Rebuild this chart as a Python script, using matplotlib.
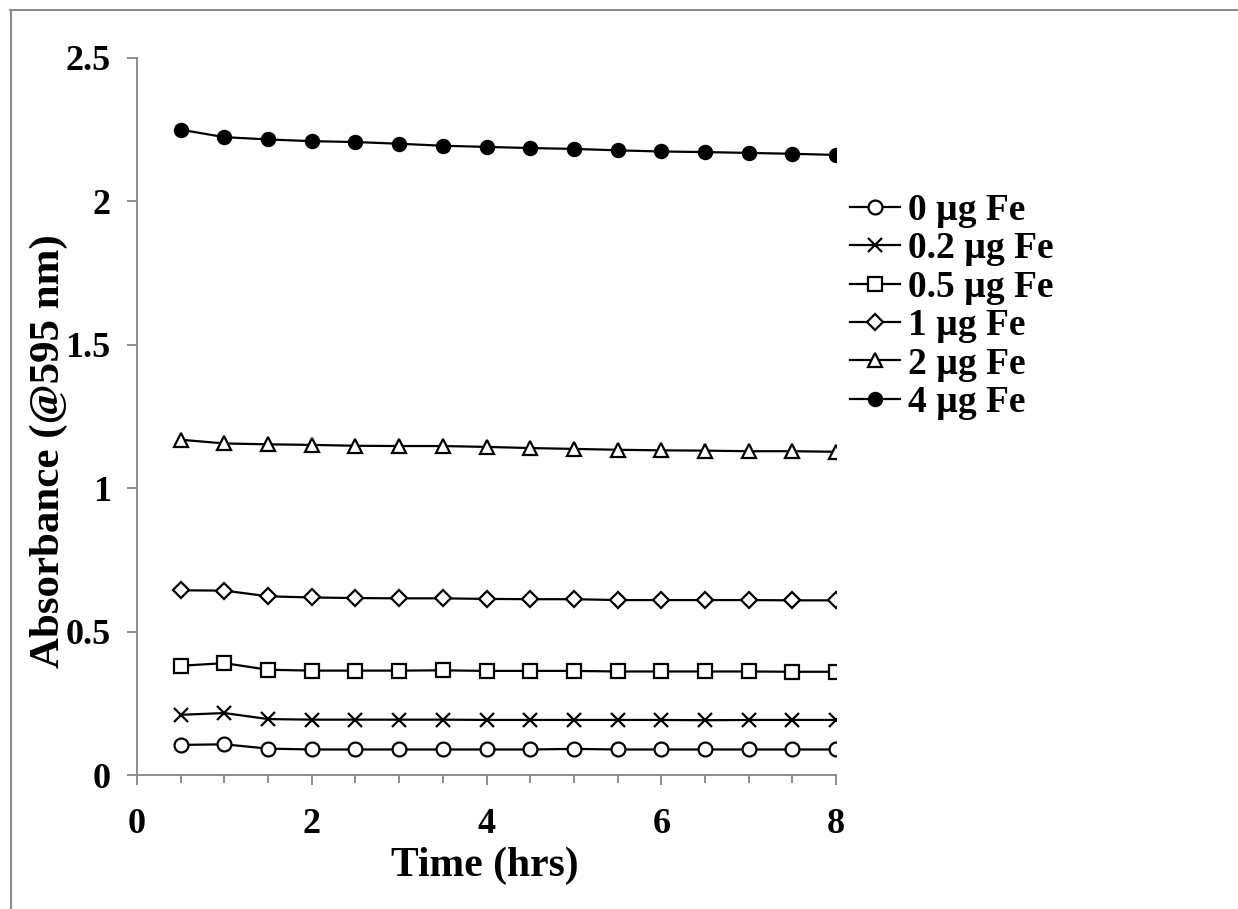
import numpy as np
import matplotlib.pyplot as plt
from matplotlib.lines import Line2D
from matplotlib.ticker import MultipleLocator

# time points (hrs)
time_hrs = [0.5, 1, 1.5, 2, 2.5, 3, 3.5, 4, 4.5, 5, 5.5, 6, 6.5, 7, 7.5, 8]

# absorbance @595 nm for each Fe amount
fe_0 = [0.105, 0.107, 0.092, 0.089, 0.089, 0.089, 0.089, 0.089,
        0.089, 0.091, 0.089, 0.089, 0.089, 0.089, 0.089, 0.089]
fe_02 = [0.210, 0.216, 0.195, 0.193, 0.193, 0.193, 0.193, 0.192,
         0.192, 0.192, 0.192, 0.192, 0.191, 0.192, 0.192, 0.192]
fe_05 = [0.381, 0.390, 0.367, 0.364, 0.364, 0.364, 0.365, 0.363,
         0.363, 0.363, 0.361, 0.361, 0.361, 0.361, 0.360, 0.360]
fe_1 = [0.644, 0.643, 0.623, 0.619, 0.617, 0.616, 0.616, 0.614,
        0.613, 0.613, 0.610, 0.610, 0.610, 0.610, 0.609, 0.609]
fe_2 = [1.169, 1.156, 1.153, 1.151, 1.148, 1.147, 1.147, 1.144,
        1.140, 1.137, 1.134, 1.132, 1.131, 1.129, 1.129, 1.127]
fe_4 = [2.250, 2.224, 2.216, 2.210, 2.207, 2.201, 2.194, 2.190,
        2.186, 2.183, 2.178, 2.174, 2.172, 2.169, 2.166, 2.162]

labels = ['0 µg Fe', '0.2 µg Fe', '0.5 µg Fe', '1 µg Fe', '2 µg Fe', '4 µg Fe']
series = [fe_0, fe_02, fe_05, fe_1, fe_2, fe_4]
markers = ['o', 'x', 's', 'D', '^', 'o']
fills = ['white', 'black', 'white', 'white', 'white', 'black']
sizes = [10, 10, 10, 8, 10, 9.5]

plt.rcParams['font.family'] = ['Liberation Serif', 'DejaVu Serif']
plt.rcParams['font.weight'] = 'bold'

fig = plt.figure(figsize=(12.38, 9.09), dpi=100)
ax = fig.add_axes([0.1107, 0.1474, 0.5646, 0.7888])

for y, lab, m, fc, ms in zip(series, labels, markers, fills, sizes):
    ax.plot(time_hrs, y, color='black', lw=1.6, marker=m, markersize=ms,
            markerfacecolor=fc, markeredgecolor='black', markeredgewidth=1.6,
            label=lab)

ax.set_xlim(0, 8)
ax.set_ylim(0, 2.5)
ax.xaxis.set_major_locator(MultipleLocator(2))
ax.xaxis.set_minor_locator(MultipleLocator(0.5))
ax.set_yticks([0, 0.5, 1, 1.5, 2, 2.5])
ax.set_yticklabels(['0', '0.5', '1', '1.5', '2', '2.5'])

for s in ['top', 'right']:
    ax.spines[s].set_visible(False)
for s in ['left', 'bottom']:
    ax.spines[s].set_color('#868686')
    ax.spines[s].set_linewidth(1.3)

ax.tick_params(axis='both', which='major', direction='out', color='#868686',
               width=1.3, length=7, labelsize=26, pad=12)
ax.tick_params(axis='x', which='major', pad=17)
ax.tick_params(axis='x', which='minor', direction='out', color='#868686',
               width=1.3, length=6)

ax.set_xlabel('Time (hrs)', fontsize=30, fontweight='bold')
ax.set_ylabel('Absorbance (@595 nm)', fontsize=31, fontweight='bold')
ax.xaxis.set_label_coords(0.498, -0.1)
ax.yaxis.set_label_coords(-0.099, 0.452)

ax.legend(loc='upper left', bbox_to_anchor=(850 / 1238, 1 - 193 / 909),
          bbox_transform=fig.transFigure, frameon=False, fontsize=27,
          handlelength=1.33, handletextpad=0.21, labelspacing=0.09,
          borderpad=0, borderaxespad=0)

# gray frame along top and left edges
fig.add_artist(Line2D([10 / 1238, 1], [1 - 10 / 909, 1 - 10 / 909],
                      transform=fig.transFigure, color='#8c8c8c', lw=1.5))
fig.add_artist(Line2D([11 / 1238, 11 / 1238], [0, 1 - 10 / 909],
                      transform=fig.transFigure, color='#8c8c8c', lw=1.5))

fig.savefig('out.png', dpi=100)
